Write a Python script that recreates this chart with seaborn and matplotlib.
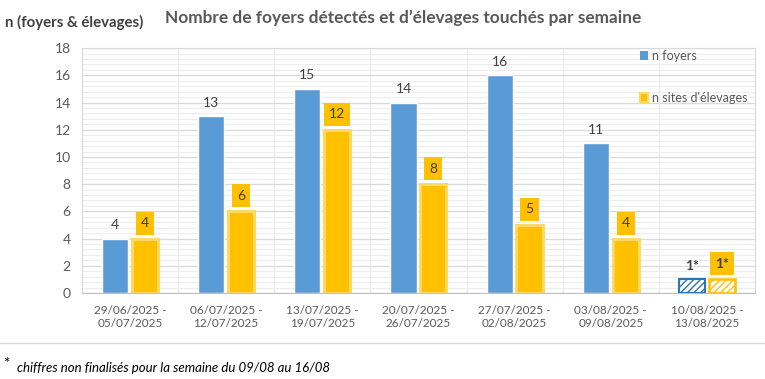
"""Weekly count of outbreaks and affected farms - grouped bar chart."""
import numpy as np
import pandas as pd
import matplotlib
matplotlib.use('Agg')
import matplotlib.pyplot as plt
from matplotlib.patches import Patch, Rectangle
import seaborn as sns

semaines = ['29/06/2025 -\n05/07/2025', '06/07/2025 -\n12/07/2025', '13/07/2025 -\n19/07/2025',
            '20/07/2025 -\n26/07/2025', '27/07/2025 -\n02/08/2025', '03/08/2025 -\n09/08/2025',
            '10/08/2025 -\n13/08/2025']
n_foyers = [4, 13, 15, 14, 16, 11, 1]
n_sites = [4, 6, 12, 8, 5, 4, 1]
labels_foyers = ['4', '13', '15', '14', '16', '11', '1*']
labels_sites = ['4', '6', '12', '8', '5', '4', '1*']
series = ['n foyers', "n sites d'élevages"]

BLUE = '#5B9BD5'
ORANGE = '#FFC000'
GOLD = '#FFD966'
TXT = '#404040'

df = pd.DataFrame({
    'semaine': semaines * 2,
    'n': n_foyers + n_sites,
    'serie': [series[0]] * len(semaines) + [series[1]] * len(semaines),
})

sns.set_style('white')
plt.rcParams['font.family'] = ['Lato', 'DejaVu Sans']

fig = plt.figure(figsize=(7.65, 3.79), dpi=100)
ax = fig.add_axes([0.107, 0.227, 0.880, 0.646])

sns.barplot(data=df, x='semaine', y='n', hue='serie', palette=[BLUE, ORANGE],
            width=0.62, gap=0.12, saturation=1, legend=False, ax=ax, zorder=3)

ax.set_xlim(-0.5, 6.5)
ax.set_ylim(0, 18)
ax.set_yticks(np.arange(0, 19, 2))
ax.set_yticks(np.arange(0, 18.01, 0.4), minor=True)
ax.set_xticks(np.arange(-0.5, 6.6, 0.5), minor=True)
ax.grid(which='major', axis='y', color='#d9d9d9', linewidth=0.9, zorder=0)
ax.grid(which='minor', axis='y', color='#ededed', linewidth=0.7, zorder=0)
ax.grid(which='minor', axis='x', color='#ededed', linewidth=0.9, zorder=0)
ax.set_axisbelow(True)
ax.tick_params(which='both', length=0)
ax.tick_params(axis='y', labelsize=10, colors='#595959', pad=8)
ax.tick_params(axis='x', labelsize=8.5, colors='#595959', pad=9)
ax.set_xlabel('')
ax.set_ylabel('')
for side in ['top', 'right', 'left']:
    ax.spines[side].set_color('#d9d9d9')
ax.spines['bottom'].set_color('#bfbfbf')

blue_bars = ax.containers[0]
orange_bars = ax.containers[1]
last = len(semaines) - 1

for bar in orange_bars:
    bar.set_edgecolor(GOLD)
    bar.set_linewidth(2.2)

# last week: figures not finalised -> hatched bars
blue_bars[last].set_facecolor('white')
blue_bars[last].set_edgecolor('#2E75B6')
blue_bars[last].set_hatch('/////')
blue_bars[last].set_linewidth(1.5)
orange_bars[last].set_facecolor('white')
orange_bars[last].set_edgecolor(ORANGE)
orange_bars[last].set_hatch('/////')
orange_bars[last].set_linewidth(1.8)

for bar, lab in zip(blue_bars, labels_foyers):
    x = bar.get_x() + bar.get_width() / 2
    ax.text(x, bar.get_height() + 1.0, lab, ha='center', va='center',
            fontsize=10, color=TXT, fontweight='bold' if '*' in lab else 'normal')

orange_texts = []
for bar, lab in zip(orange_bars, labels_sites):
    x = bar.get_x() + bar.get_width() / 2
    t = ax.text(x, bar.get_height() + 1.14, lab, ha='center', va='center', zorder=6,
                fontsize=10, color=TXT, fontweight='bold' if '*' in lab else 'normal')
    orange_texts.append(t)

# orange label boxes: a few px of side padding, fixed height (like the Excel callouts)
fig.canvas.draw()
renderer = fig.canvas.get_renderer()
inv = ax.transData.inverted()
for t in orange_texts:
    bb = t.get_window_extent(renderer)
    cy = (bb.y0 + bb.y1) / 2
    (x0, y0) = inv.transform((bb.x0 - 5, cy - 11.5))
    (x1, y1) = inv.transform((bb.x1 + 5, cy + 11.5))
    ax.add_patch(Rectangle((x0, y0), x1 - x0, y1 - y0, facecolor=ORANGE,
                           edgecolor='none', zorder=5))

handles = [Patch(facecolor=BLUE, edgecolor='none'),
           Patch(facecolor=ORANGE, edgecolor=GOLD, linewidth=1.5)]
ax.legend(handles, series, loc='upper right', bbox_to_anchor=(1.0, 1.025), frameon=False,
          fontsize=9, labelcolor='#595959', handlelength=0.7, handleheight=0.7,
          handletextpad=0.3, labelspacing=2.4, borderaxespad=0.2)

fig.text(0.007, 0.94, 'n (foyers & élevages)', fontsize=10.8, fontweight='bold', color=TXT,
         va='center', ha='left')
fig.text(0.527, 0.953, 'Nombre de foyers détectés et d’élevages touchés par semaine',
         fontsize=12.4, fontweight='bold', color='#595959', va='center', ha='center')

fig.add_artist(plt.Line2D([0, 1], [1 - 343 / 379, 1 - 343 / 379], color='#d9d9d9',
                          linewidth=1, transform=fig.transFigure))
fig.text(0.004, 0.04, '*', fontsize=11, color='black', va='center', ha='left')
fig.text(0.022, 0.03, 'chiffres non finalisés pour la semaine du 09/08 au 16/08',
         fontsize=9.5, style='italic', color='black', va='center', ha='left')

fig.savefig('out.png', dpi=100)
